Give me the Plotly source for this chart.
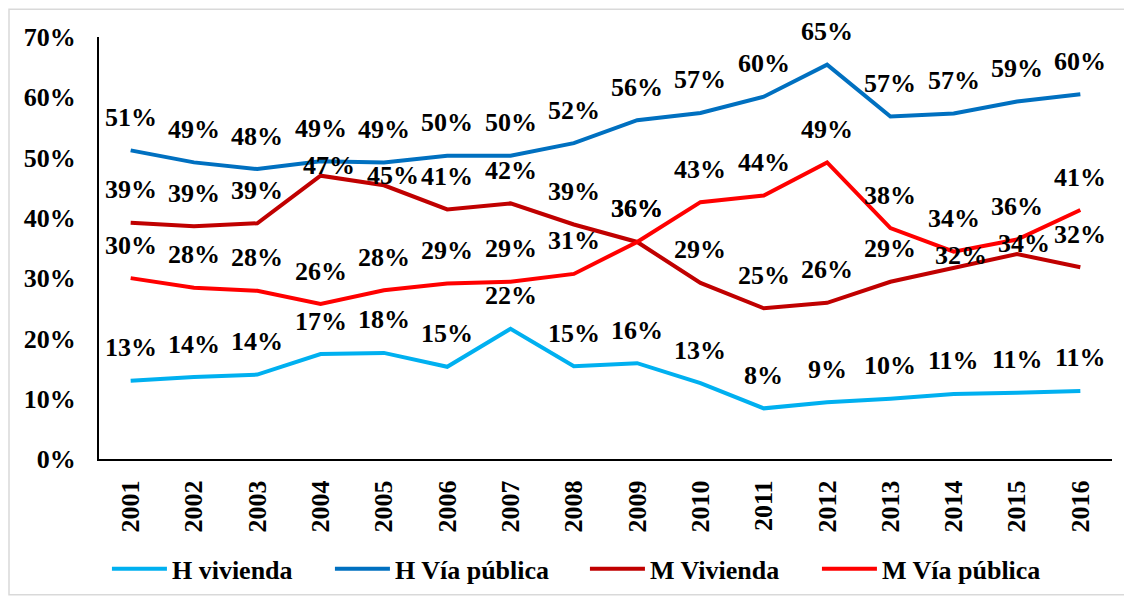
import plotly.graph_objects as go

years = [str(y) for y in range(2001, 2017)]

h_vivienda = [13.0, 13.6, 14.0, 17.4, 17.6, 15.3, 21.6, 15.4, 15.9, 12.6, 8.4, 9.4, 10.0, 10.8, 11.0, 11.3]
h_via_publica = [51.2, 49.2, 48.1, 49.4, 49.2, 50.3, 50.3, 52.4, 56.2, 57.4, 60.1, 65.4, 56.8, 57.3, 59.3, 60.5]
m_vivienda = [39.2, 38.6, 39.1, 47.0, 45.4, 41.4, 42.4, 38.9, 36.0, 29.2, 25.0, 25.9, 29.4, 31.7, 34.0, 31.8]
m_via_publica = [30.0, 28.4, 27.9, 25.7, 28.0, 29.1, 29.4, 30.7, 36.0, 42.6, 43.7, 49.2, 38.3, 34.4, 36.4, 41.3]

series_names = ["H vivienda", "H Vía pública", "M Vivienda", "M Vía pública"]
series_values = [h_vivienda, h_via_publica, m_vivienda, m_via_publica]
series_colors = ["#00B0F0", "#0070C0", "#C00000", "#FF0000"]
legend_widths = [153, 185, 162, 170]

# label nudges (style): (series index, point index) -> (xshift, yshift)
default_shift = (0, 33)
label_nudge = {(2, 3): (8, 10), (2, 4): (9, 10), (2, 13): (7, 12), (2, 14): (7, 11)}

FONT = "Liberation Serif"
FS = 26

fig = go.Figure()
annotations = []
for si, (name, vals, col, lw) in enumerate(zip(series_names, series_values, series_colors, legend_widths)):
    fig.add_trace(go.Scatter(
        x=years, y=vals, mode="lines", name=name,
        line=dict(color=col, width=4), hoverinfo="skip", legendwidth=lw,
    ))
    for pi, yv in enumerate(vals):
        dx, dy = label_nudge.get((si, pi), default_shift)
        annotations.append(dict(
            x=pi, y=yv, xref="x", yref="y", text=f"{round(yv)}%",
            showarrow=False, xanchor="center", yanchor="middle",
            xshift=dx, yshift=dy,
            font=dict(family=FONT, size=FS, color="black", weight="bold"),
        ))

# The page places the figure 8px from the top-left corner of the window.
OFF = 8
W, H = 1132 - OFF, 605 - OFF
ml, mr, mt, mb = 99 - OFF, 20, 37 - OFF, 142
pw, ph = W - ml - mr, H - mt - mb
def px_x(x):  # reference-window pixel -> paper
    return (x - OFF - ml) / pw
def px_y(y):
    return (H - mb - (y - OFF)) / ph

shapes = [dict(type="rect", xref="paper", yref="paper",
               x0=px_x(OFF + 1), x1=px_x(1128), y0=px_y(600), y1=px_y(OFF + 1),
               line=dict(color="#D9D9D9", width=1.5), fillcolor="rgba(0,0,0,0)", layer="below")]

fig.update_layout(
    width=W, height=H,
    margin=dict(l=ml, r=mr, t=mt, b=mb, pad=0),
    paper_bgcolor="white", plot_bgcolor="white",
    font=dict(family=FONT, size=FS, color="black", weight="bold"),
    showlegend=True,
    legend=dict(orientation="h", x=px_x(112) - 0.005, xanchor="left", y=px_y(574), yanchor="middle",
                font=dict(family=FONT, size=FS, color="black", weight="bold"),
                itemwidth=55, bgcolor="rgba(0,0,0,0)"),
    annotations=annotations,
    shapes=shapes,
)
fig.update_xaxes(type="category", range=[-0.5, 15.5], showgrid=False, zeroline=False,
                 showline=True, linecolor="black", linewidth=2, ticks="",
                 tickangle=-90, ticklabelstandoff=9,
                 tickfont=dict(family=FONT, size=FS, color="black", weight="bold"))
fig.update_yaxes(range=[0, 70], dtick=10, ticksuffix="%", showgrid=False, zeroline=False,
                 showline=True, linecolor="black", linewidth=2, ticks="",
                 ticklabelstandoff=16,
                 tickfont=dict(family=FONT, size=FS, color="black", weight="bold"))

fig.write_html("out.html")
